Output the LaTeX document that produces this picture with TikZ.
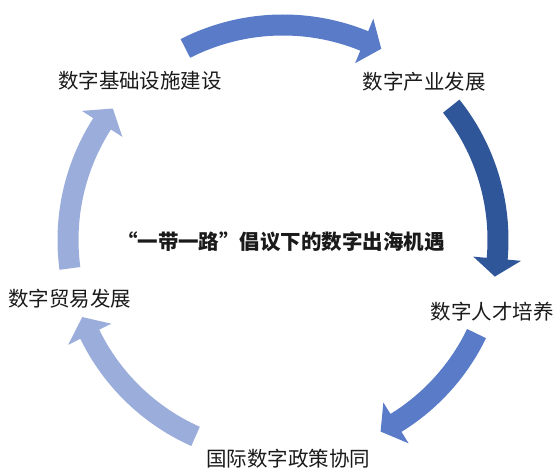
\documentclass[tikz,border=0pt]{standalone}
\usepackage{fontspec}
\newfontfamily\cjk{Noto Sans CJK SC}
\usetikzlibrary{calc}
\definecolor{midblue}{HTML}{5A7BC8}
\definecolor{darkblue}{HTML}{30569A}
\definecolor{lightblue}{HTML}{9BADDB}
\definecolor{txt}{HTML}{1A1A1A}
\newcommand\cyclearrow[4]{%
  \fill[#4] ($(C)+(#1:225.5pt)$) arc[start angle=#1, end angle=#2, radius=225.5pt]
    -- ($(C)+(#2:239pt)$) -- ($(C)+(#3:215pt)$) -- ($(C)+(#2:191pt)$)
    -- ($(C)+(#2:204.5pt)$) arc[start angle=#2, end angle=#1, radius=204.5pt] -- cycle;}
\begin{document}
\begin{tikzpicture}[x=1pt,y=1pt,
  lbl/.style={font=\cjk\fontsize{20.5}{24}\selectfont, text=txt, inner sep=0pt},
  ttl/.style={font=\cjk\bfseries\fontsize{20.5}{24}\selectfont, text=txt, inner sep=0pt}]
\useasboundingbox (0,0) rectangle (555,468);
\coordinate (C) at (283,228);
\cyclearrow{117}{67.8}{62.8}{midblue}
\cyclearrow{38.5}{-5}{-9.8}{darkblue}
\cyclearrow{-25.8}{-58.3}{-63}{midblue}
\cyclearrow{246}{206}{201}{lightblue}
\cyclearrow{187.6}{147.3}{142.3}{lightblue}
\node[lbl] (infra) at (140,387) {数字基础设施建设};
\node[lbl] (industry) at (424,386) {数字产业发展};
\node[lbl] (talent) at (492,156) {数字人才培养};
\node[lbl] (trade) at (70,169) {数字贸易发展};
\node[lbl] (policy) at (288,9) {国际数字政策协同};
\node[ttl] (title) at (281,226) {“一带一路”倡议下的数字出海机遇};
\end{tikzpicture}
\end{document}
